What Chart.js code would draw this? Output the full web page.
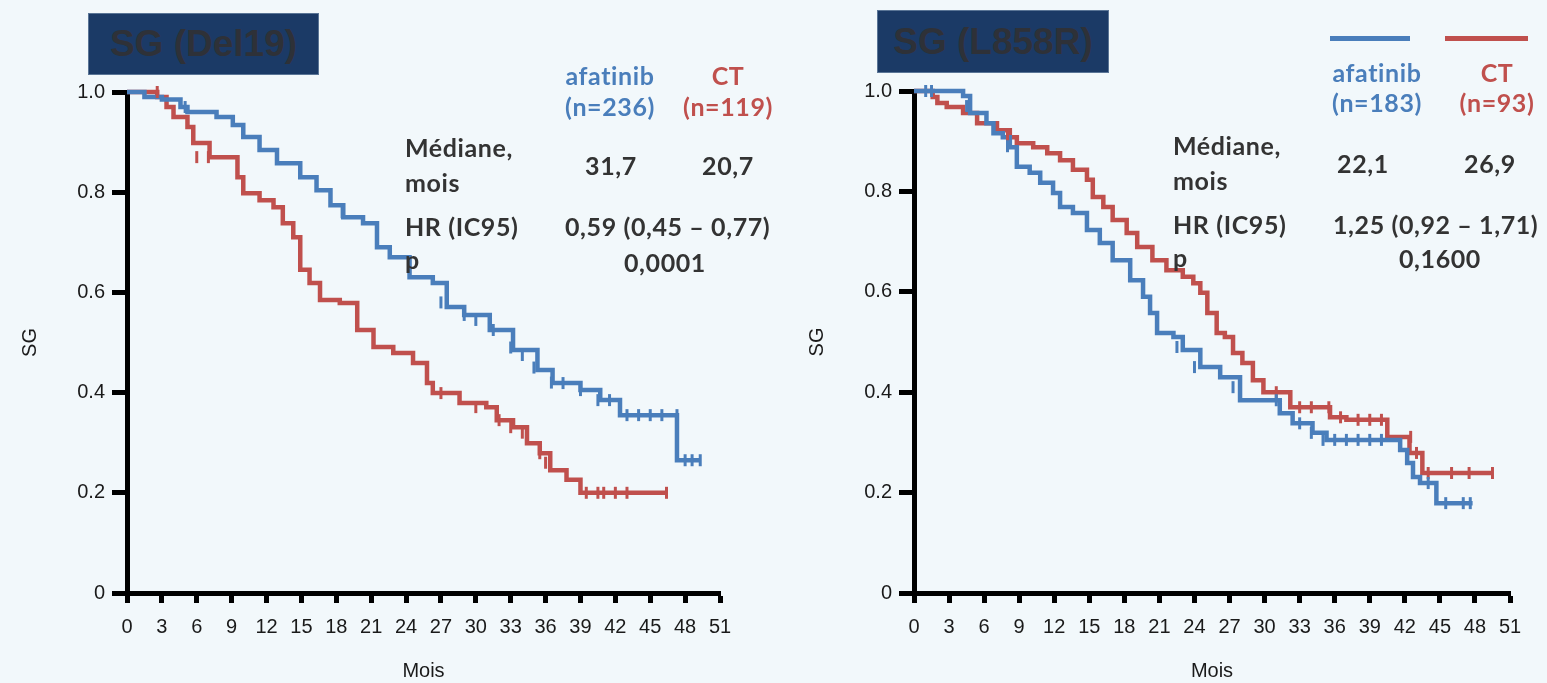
<!DOCTYPE html>
<html>
<head>
<meta charset="utf-8">
<script src="https://cdn.jsdelivr.net/npm/chart.js@4/dist/chart.umd.min.js"></script>
<style>
  html, body { margin: 0; padding: 0; }
  body { width: 1547px; height: 683px; background: #f2f8fb; position: relative; overflow: hidden; }
  canvas { position: absolute; top: 0; }
  .t { position: absolute; font-family: Lato, "Open Sans", sans-serif; font-weight: 700; font-size: 25px; letter-spacing: 0.6px; color: #333; white-space: nowrap; z-index: 5; }
  .c { transform: translate(-50%, -50%); }
  .l { transform: translateY(-50%); }
  .blue { color: #4a7ebb; }
  .red { color: #c0504d; }
  .box { position: absolute; background: #1b3a66; border: 1px solid #5a7596; color: #2e3138; font-family: "Liberation Sans", Arial, sans-serif; font-weight: 700; font-size: 37px; display: flex; align-items: center; justify-content: center; z-index: 5; }
  .leg { position: absolute; height: 5px; z-index: 5; }
</style>
</head>
<body>
<canvas id="c1" width="760" height="683" style="left:0px"></canvas>
<canvas id="c2" width="760" height="683" style="left:787px"></canvas>

<div class="box" style="left:88px;top:13px;width:229px;height:60px;">SG (Del19)</div>
<div class="box" style="left:877px;top:10px;width:230px;height:61px;">SG (L858R)</div>

<div class="t c blue" style="left:610px;top:75px;">afatinib</div>
<div class="t c blue" style="left:610px;top:106px;">(n=236)</div>
<div class="t c red" style="left:728px;top:75px;">CT</div>
<div class="t c red" style="left:728px;top:106px;">(n=119)</div>
<div class="t l" style="left:405px;top:147px;">Médiane,</div>
<div class="t l" style="left:405px;top:182px;">mois</div>
<div class="t c" style="left:611px;top:165px;">31,7</div>
<div class="t c" style="left:728px;top:165px;">20,7</div>
<div class="t l" style="left:405px;top:226px;">HR (IC95)</div>
<div class="t l" style="left:565px;top:226px;">0,59 (0,45 – 0,77)</div>
<div class="t l" style="left:405px;top:259px;">p</div>
<div class="t c" style="left:665px;top:262px;">0,0001</div>

<div class="leg" style="left:1330px;top:36px;width:80px;background:#4a7ebb;"></div>
<div class="leg" style="left:1445px;top:36px;width:83px;background:#c0504d;"></div>
<div class="t c blue" style="left:1377px;top:72px;">afatinib</div>
<div class="t c blue" style="left:1377px;top:102px;">(n=183)</div>
<div class="t c red" style="left:1497px;top:72px;">CT</div>
<div class="t c red" style="left:1497px;top:102px;">(n=93)</div>
<div class="t l" style="left:1173px;top:145px;">Médiane,</div>
<div class="t l" style="left:1173px;top:180px;">mois</div>
<div class="t c" style="left:1363px;top:163px;">22,1</div>
<div class="t c" style="left:1490px;top:163px;">26,9</div>
<div class="t l" style="left:1173px;top:224px;">HR (IC95)</div>
<div class="t l" style="left:1333px;top:224px;">1,25 (0,92 – 1,71)</div>
<div class="t l" style="left:1173px;top:257px;">p</div>
<div class="t c" style="left:1440px;top:258px;">0,1600</div>

<script>
// ---- data (months, survival probability) ----
const xTicks = [0,3,6,9,12,15,18,21,24,27,30,33,36,39,42,45,48,51];
const yTickLabels = ['0','0.2','0.4','0.6','0.8','1.0'];

const del19Afatinib = [[0,1],[1.5,0.99],[3,0.985],[4.6,0.97],[5.2,0.96],[7.7,0.95],[9.1,0.934],[10,0.91],[11.4,0.884],[12.9,0.858],[14.9,0.83],[16.3,0.804],[17.5,0.774],[18.6,0.75],[20.3,0.738],[21.5,0.69],[22.6,0.67],[24.3,0.63],[26.3,0.619],[27.5,0.571],[29,0.555],[31.2,0.525],[33.2,0.485],[35.3,0.445],[36.6,0.419],[39,0.405],[40.7,0.385],[42.4,0.355],[47.3,0.265],[49.3,0.265]];
const del19CT = [[0,1],[2.6,0.99],[3.4,0.97],[4,0.95],[5.2,0.93],[5.7,0.898],[7.1,0.87],[8.6,0.87],[9.5,0.83],[10,0.798],[11.4,0.784],[12.6,0.77],[13.4,0.738],[14.3,0.71],[14.9,0.645],[15.7,0.619],[16.6,0.585],[18.3,0.579],[19.8,0.525],[21.2,0.491],[22.9,0.479],[24.6,0.459],[25.8,0.419],[26.3,0.399],[28.6,0.379],[30.9,0.371],[31.8,0.345],[33.2,0.331],[34.4,0.299],[35.5,0.279],[36.4,0.245],[37.8,0.226],[39,0.2],[46.4,0.2]];
const del19AfatinibCens = [[5,0.97],[18.5,0.76],[27,0.58],[29,0.555],[30,0.545],[31.5,0.525],[33,0.49],[34,0.475],[35,0.45],[36.5,0.42],[37.5,0.419],[39,0.405],[40.5,0.385],[41.5,0.385],[43,0.355],[44,0.355],[45,0.355],[46,0.355],[47.3,0.355],[48,0.265],[48.6,0.265],[49.3,0.265]];
const del19CTCens = [[2.6,1],[6,0.87],[7,0.87],[27,0.399],[30,0.371],[32,0.345],[33,0.331],[34,0.32],[35.5,0.279],[36,0.26],[39.5,0.2],[40.5,0.2],[41,0.2],[42,0.2],[43,0.2],[46.4,0.2]];

const l858rAfatinib = [[0,1],[4.2,0.99],[4.8,0.956],[6.2,0.936],[6.8,0.916],[7.6,0.908],[8.2,0.888],[8.8,0.849],[9.9,0.837],[10.8,0.817],[11.9,0.797],[12.5,0.769],[13.6,0.757],[14.8,0.723],[15.9,0.697],[17,0.663],[18.5,0.623],[19.6,0.59],[20.2,0.558],[20.8,0.518],[22.2,0.51],[23,0.484],[24.5,0.45],[26.2,0.43],[27.9,0.384],[30.7,0.384],[31.3,0.358],[32.4,0.338],[34.1,0.319],[35.3,0.305],[41,0.305],[41.6,0.285],[42.2,0.259],[42.7,0.231],[43.3,0.219],[44.7,0.179],[47.8,0.179]];
const l858rCT = [[0,1],[1.6,0.988],[2,0.976],[2.8,0.968],[4.2,0.956],[5.4,0.936],[7.1,0.922],[8.2,0.908],[8.8,0.896],[10.2,0.888],[11.4,0.876],[12.5,0.862],[13.6,0.843],[14.8,0.823],[15.3,0.789],[16.2,0.769],[17,0.743],[18.2,0.717],[19.1,0.689],[20.4,0.663],[21.6,0.643],[23,0.63],[23.9,0.617],[24.5,0.598],[25.1,0.558],[25.9,0.518],[26.6,0.51],[27.3,0.478],[28.1,0.458],[29,0.424],[29.9,0.4],[32.2,0.37],[35.6,0.35],[37,0.345],[40.5,0.311],[42.4,0.279],[43.5,0.239],[49.5,0.239]];
const l858rAfatinibCens = [[1,1],[1.5,1],[4.5,0.97],[8,0.89],[22.5,0.49],[24,0.45],[27.3,0.41],[31,0.384],[33,0.338],[34,0.319],[35,0.305],[36,0.305],[37,0.305],[38,0.305],[39,0.305],[40,0.305],[44,0.219],[45.5,0.179],[47,0.179],[47.6,0.179]];
const l858rCTCens = [[8,0.91],[31,0.4],[33,0.37],[34,0.37],[35.5,0.37],[36.5,0.35],[38,0.345],[39,0.345],[40,0.345],[42.5,0.311],[43,0.279],[44,0.239],[46,0.239],[47.5,0.239],[49.5,0.239]];

const BLUE = '#4a7ebb';
const RED = '#c0504d';
const pts = a => a.map(([x, y]) => ({x, y}));
const AXIS_FONT = { family: 'Liberation Sans', size: 20 };

function makeChart(id, blue, red, blueC, redC, padTop, padRight) {
  const line = (d, c) => ({ type: 'line', data: pts(d), borderColor: c, backgroundColor: c, borderWidth: 4.5, stepped: true, pointRadius: 0, fill: false, clip: false, order: 2 });
  const cens = (d, c) => ({ type: 'scatter', data: pts(d), borderColor: c, backgroundColor: c, pointStyle: 'line', rotation: 90, pointRadius: 6, borderWidth: 3, clip: false, order: 1 });
  return new Chart(document.getElementById(id), {
    type: 'line',
    data: { datasets: [line(blue, BLUE), line(red, RED), cens(blueC, BLUE), cens(redC, RED)] },
    options: {
      responsive: false, animation: false, events: [],
      layout: { padding: { top: padTop, right: padRight, left: 0, bottom: 0 } },
      plugins: { legend: { display: false }, tooltip: { enabled: false } },
      scales: {
        x: {
          type: 'linear', min: 0, max: 51,
          afterBuildTicks: s => { s.ticks = xTicks.map(v => ({ value: v })); },
          ticks: { color: '#1a1a1a', font: AXIS_FONT, padding: 12, maxRotation: 0, autoSkip: false, callback: v => String(v) },
          grid: { display: true, drawOnChartArea: false, drawTicks: true, tickLength: 10, tickWidth: 5, color: '#000' },
          border: { display: true, width: 5, color: '#000' },
          title: { display: true, text: 'Mois', color: '#1a1a1a', font: AXIS_FONT, padding: { top: 0, bottom: 0 } },
          afterFit: s => { s.height = 90; }
        },
        y: {
          type: 'linear', min: 0, max: 1,
          afterBuildTicks: s => { s.ticks = yTickLabels.map((t, i) => ({ value: i * 0.2 })); },
          ticks: { color: '#1a1a1a', font: AXIS_FONT, padding: 7, callback: (v, i) => yTickLabels[i] },
          grid: { display: true, drawOnChartArea: false, drawTicks: true, tickLength: 15, tickWidth: 5, color: '#000' },
          border: { display: true, width: 5, color: '#000' },
          title: { display: true, text: 'SG', color: '#1a1a1a', font: AXIS_FONT, padding: { top: 18, bottom: 0 } },
          afterFit: s => { s.width = 127; }
        }
      }
    }
  });
}

makeChart('c1', del19Afatinib, del19CT, del19AfatinibCens, del19CTCens, 92, 40);
makeChart('c2', l858rAfatinib, l858rCT, l858rAfatinibCens, l858rCTCens, 91, 37);
</script>
</body>
</html>
